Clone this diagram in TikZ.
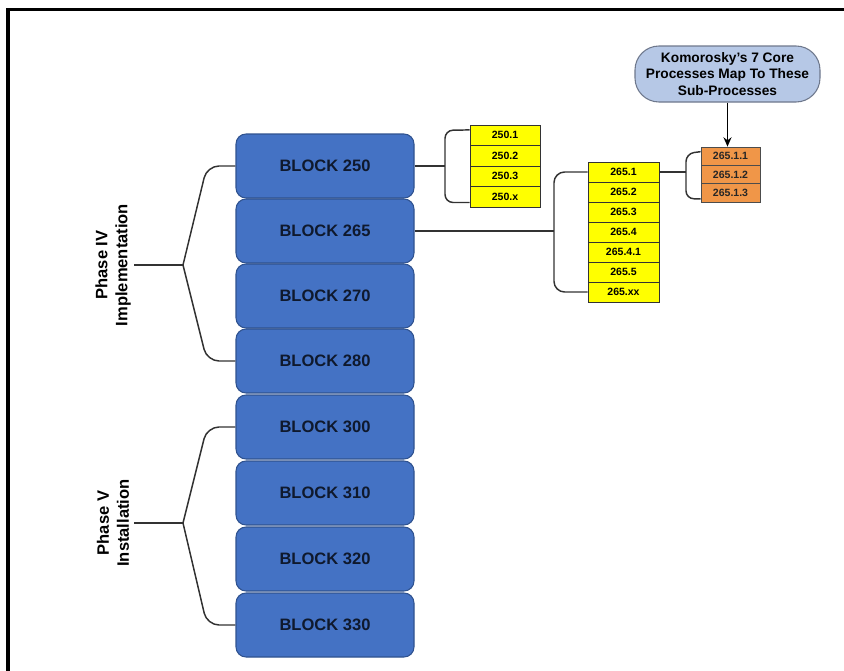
\documentclass[tikz,border=0pt]{standalone}
\usepackage{fontspec}
\setmainfont{Liberation Sans}
\usetikzlibrary{arrows.meta,calc}
\definecolor{blockfill}{RGB}{68,114,196}
\definecolor{blockline}{RGB}{47,82,143}
\definecolor{blocktext}{RGB}{15,25,45}
\definecolor{subfill}{RGB}{255,255,0}
\definecolor{orfill}{RGB}{240,150,72}
\definecolor{calfill}{RGB}{182,200,230}
\definecolor{calline}{RGB}{110,120,140}
\definecolor{conn}{RGB}{50,50,50}
\begin{document}
\begin{tikzpicture}[x=0.75pt,y=-0.75pt,
  blockbox/.style={draw=blockline,fill=blockfill,line width=0.8pt,rounded corners=7.5pt,
    minimum width=133.5pt,minimum height=48pt,inner sep=0pt,text=blocktext,
    font=\fontsize{12.4}{14}\selectfont\bfseries},
  subbox/.style={draw=black!80,fill=subfill,line width=0.6pt,minimum width=52.5pt,
    minimum height=15.4pt,inner sep=0pt,font=\fontsize{7.9}{9}\selectfont\bfseries},
  subboxb/.style={subbox,minimum width=53.25pt,minimum height=15pt},
  orbox/.style={draw=black!70,fill=orfill,line width=0.6pt,minimum width=44.25pt,
    minimum height=13.75pt,inner sep=0pt,font=\fontsize{7.9}{9}\selectfont\bfseries,text=black!85},
  callout/.style={draw=calline,fill=calfill,line width=0.8pt,rounded corners=18pt,
    minimum width=138.75pt,minimum height=42pt,inner sep=0pt,align=center,
    font=\fontsize{10.3}{12.4}\selectfont\bfseries},
  phaselabel/.style={rotate=90,align=center,inner sep=0pt,
    font=\fontsize{12.4}{15}\selectfont\bfseries},
  connline/.style={draw=conn,line width=1.1pt},
  frameline/.style={draw=black,line width=2.3pt}]
\useasboundingbox (0,0) rectangle (844,671);

% frame (partial)
\draw[frameline] (8,9.5) -- (844,9.5);
\draw[frameline] (8,8.4) -- (8,671);

% blocks
\node[blockbox] (b250) at (325,166) {BLOCK 250};
\node[blockbox] (b265) at (325,231) {BLOCK 265};
\node[blockbox] (b270) at (325,296) {BLOCK 270};
\node[blockbox] (b280) at (325,361) {BLOCK 280};
\node[blockbox] (b300) at (325,427) {BLOCK 300};
\node[blockbox] (b310) at (325,493) {BLOCK 310};
\node[blockbox] (b320) at (325,559) {BLOCK 320};
\node[blockbox] (b330) at (325,625) {BLOCK 330};

% phase labels
\node[phaselabel] (p4) at (113,265) {Phase IV\\Implementation};
\node[phaselabel] (p5) at (113,523) {Phase V\\Installation};
\coordinate (s4) at (134,265);
\coordinate (s5) at (134,523);
\coordinate (t4) at (183,265);
\coordinate (t5) at (183,523);

\draw[connline,rounded corners=9pt] (b250.west) -- (207,166) -- (t4);
\draw[connline,rounded corners=9pt] (b280.west) -- (207,361) -- (t4);
\draw[connline] (s4) -- (t4);
\draw[connline,rounded corners=9pt] (b300.west) -- (207,427) -- (t5);
\draw[connline,rounded corners=9pt] (b330.west) -- (207,625) -- (t5);
\draw[connline] (s5) -- (t5);

% 250 sub-processes
\node[subbox] (a1) at (505,135.25) {250.1};
\node[subbox] (a2) at (505,155.75) {250.2};
\node[subbox] (a3) at (505,176.25) {250.3};
\node[subbox] (a4) at (505,196.75) {250.x};
\draw[connline,rounded corners=6pt] ([yshift=4pt]a1.west) -- (445,130.3) -- (445,202.5) -- ([yshift=-4.3pt]a4.west);
\draw[connline] (b250.east) -- (445,166);

% 265 sub-processes
\node[subboxb] (c1) at (623.5,172) {265.1};
\node[subboxb] (c2) at (623.5,192) {265.2};
\node[subboxb] (c3) at (623.5,212) {265.3};
\node[subboxb] (c4) at (623.5,232) {265.4};
\node[subboxb] (c5) at (623.5,252) {265.4.1};
\node[subboxb] (c6) at (623.5,272) {265.5};
\node[subboxb] (c7) at (623.5,292) {265.xx};
\draw[connline,rounded corners=8pt] (c1.west) -- (554,172) -- (554,292) -- (c7.west);
\draw[connline] (b265.east) -- (554,231);

% 265.1 sub-processes
\node[orbox] (o1) at (730.5,156.2) {265.1.1};
\node[orbox] (o2) at (730.5,174.5) {265.1.2};
\node[orbox] (o3) at (730.5,192.8) {265.1.3};
\draw[connline,rounded corners=6pt] ([yshift=3.4pt]o1.west) -- (686,153.6) -- (686,198.8) -- ([yshift=-4.5pt]o3.west);
\draw[connline] (c1.east) -- (686,172);

% callout
\node[callout] (cal) at (727.5,74) {Komorosky's 7 Core\\Processes Map To These\\Sub-Processes};
\draw[line width=1.1pt,-{Stealth[length=7pt,width=6pt]}] (cal.south) -- (cal.south |- o1.north);
\end{tikzpicture}
\end{document}
